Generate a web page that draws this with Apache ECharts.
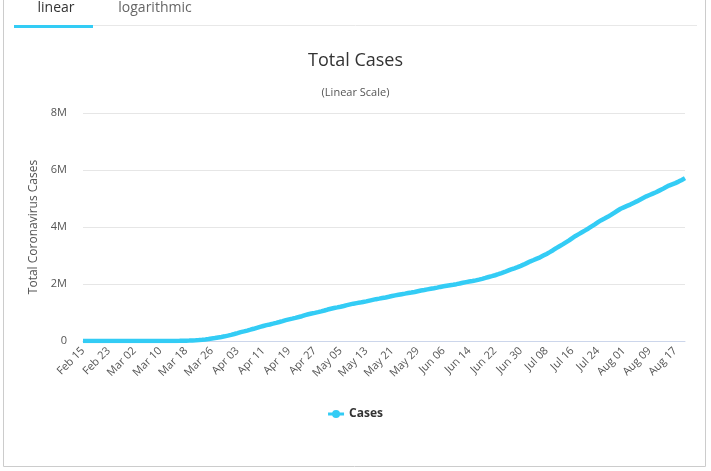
<!DOCTYPE html>
<html>
<head>
<meta charset="utf-8">
<script src="https://cdn.jsdelivr.net/npm/echarts@6/dist/echarts.min.js"></script>
<style>
html,body{margin:0;padding:0;background:#fff;}
#chart{width:711px;height:471px;}
</style>
</head>
<body>
<div id="chart"></div>
<script>
// Date range of the series (daily, Feb 15 to Aug 20)
var startMonth = 1, startDay = 15, dayCount = 188;
var monthNames = ['Jan','Feb','Mar','Apr','May','Jun','Jul','Aug','Sep','Oct','Nov','Dec'];
var monthLengths = [31,29,31,30,31,30,31,31,30,31,30,31];

// Total cases
var casesFeb = [15,15,15,15,15,15,35,35,35,53,57,60,60,63,68];
var casesMar = [75,100,124,158,221,319,435,541,704,994,1301,1697,2247,2943,3680,4663,6411,9197,13779,19367,24192,33592,43781,54856,68211,85570,102900,123966,142102,163807,188172];
var casesApr = [215003,244877,277828,311357,336802,366317,397121,428654,463327,496535,526396,555313,580619,607670,636350,667801,699706,732197,759086,784326,811865,840351,869170,905358,938154,965785,988197,1012582,1039909,1069424];
var casesMay = [1103461,1132539,1158040,1180375,1204351,1228603,1257023,1283929,1309550,1329260,1347881,1369376,1390406,1417774,1442824,1467820,1486757,1508308,1528568,1551853,1577147,1600937,1622612,1643246,1662302,1681418,1699933,1721750,1746019,1770165,1790191];
var casesJun = [1811277,1831821,1851520,1872660,1897380,1920061,1938823,1956421,1973797,1994283,2016027,2042546,2066401,2085769,2104346,2127646,2154203,2181495,2213530,2246077,2275645,2307225,2343965,2382426,2422299,2467837,2510259,2549294,2590582,2636538];
var casesJul = [2687588,2742049,2795361,2841241,2891124,2936077,2996098,3055144,3118168,3184722,3260000,3325000,3390000,3460000,3530000,3610000,3685000,3750000,3815000,3880000,3948000,4022000,4095000,4172000,4240000,4297000,4356000,4425000,4498000,4570000,4640000];
var casesAug = [4690000,4740000,4786000,4845000,4898000,4958000,5018000,5076000,5124000,5172000,5220000,5276000,5330000,5394000,5452000,5497000,5540000,5593000,5652000,5715000];

var yTicks = [0, 2000000, 4000000, 6000000, 8000000];
var yTickLabels = ['0', '2M', '4M', '6M', '8M'];

var cases = [].concat(casesFeb, casesMar, casesApr, casesMay, casesJun, casesJul, casesAug);

var categories = [];
(function () {
  var m = startMonth, d = startDay;
  for (var i = 0; i < dayCount; i++) {
    categories.push(monthNames[m] + ' ' + (d < 10 ? '0' + d : d));
    d++;
    if (d > monthLengths[m]) { d = 1; m++; }
  }
})();

var FONT = '"Open Sans", "Noto Sans", sans-serif';
var LINE_COLOR = '#33ccf5';

var chart = echarts.init(document.getElementById('chart'));
chart.setOption({
  animation: false,
  textStyle: { fontFamily: FONT },
  title: [
    { text: 'Total Cases', left: 'center', top: 47,
      textStyle: { fontSize: 18, fontWeight: 'normal', color: '#333', fontFamily: FONT } },
    { text: '(Linear Scale)', left: 'center', top: 82,
      textStyle: { fontSize: 11, fontWeight: 'normal', color: '#555', fontFamily: FONT } }
  ],
  graphic: [
    { type: 'line', shape: { x1: 3.5, y1: 0, x2: 3.5, y2: 466.5 }, style: { stroke: '#cccccc', lineWidth: 1 } },
    { type: 'line', shape: { x1: 705.5, y1: 0, x2: 705.5, y2: 466.5 }, style: { stroke: '#cccccc', lineWidth: 1 } },
    { type: 'line', shape: { x1: 3.5, y1: 466.5, x2: 705.5, y2: 466.5 }, style: { stroke: '#cccccc', lineWidth: 1 } },
    { type: 'line', shape: { x1: 14, y1: 25.5, x2: 697, y2: 25.5 }, style: { stroke: '#e8e8e8', lineWidth: 1 } },
    { type: 'rect', shape: { x: 14, y: 25, width: 79, height: 3 }, style: { fill: LINE_COLOR } },
    { type: 'text', x: 56, y: 8, style: { text: 'linear', fontSize: 14, fill: '#333', fontFamily: FONT, align: 'center', verticalAlign: 'middle' } },
    { type: 'text', x: 155, y: 8, style: { text: 'logarithmic', fontSize: 14, fill: '#666', fontFamily: FONT, align: 'center', verticalAlign: 'middle' } }
  ],
  legend: {
    data: [{ name: 'Cases', icon: 'path://M0,2.4H16V5.6H0Z M12,4A4,4,0,1,1,4,4A4,4,0,1,1,12,4Z' }],
    top: 403,
    left: 'center',
    itemWidth: 16,
    itemHeight: 8,
    itemGap: 10,
    textStyle: { fontSize: 12, fontWeight: 'bold', color: '#333', fontFamily: FONT }
  },
  grid: { left: 83, right: 26, top: 113, bottom: 130, containLabel: false },
  xAxis: {
    type: 'category',
    data: categories,
    boundaryGap: false,
    axisLine: { lineStyle: { color: '#ccd6eb' } },
    axisTick: { show: false },
    axisLabel: { rotate: 45, interval: 7, fontSize: 11, color: '#555', margin: 8, fontFamily: FONT },
    splitLine: { show: false }
  },
  yAxis: {
    type: 'value',
    min: yTicks[0],
    max: yTicks[yTicks.length - 1],
    interval: yTicks[1] - yTicks[0],
    name: 'Total Coronavirus Cases',
    nameLocation: 'middle',
    nameGap: 39,
    nameTextStyle: { fontSize: 12, color: '#555', fontFamily: FONT },
    axisLine: { show: false },
    axisTick: { show: false },
    axisLabel: {
      fontSize: 11, color: '#555', margin: 16, fontFamily: FONT,
      formatter: function (v) { var i = yTicks.indexOf(v); return i >= 0 ? yTickLabels[i] : ''; }
    },
    splitLine: { lineStyle: { color: '#e6e6e6' } }
  },
  series: [{
    name: 'Cases',
    type: 'line',
    data: cases,
    showSymbol: false,
    symbol: 'circle',
    symbolSize: 9,
    itemStyle: { color: LINE_COLOR },
    lineStyle: { color: LINE_COLOR, width: 4.5 }
  }]
});
</script>
</body>
</html>
